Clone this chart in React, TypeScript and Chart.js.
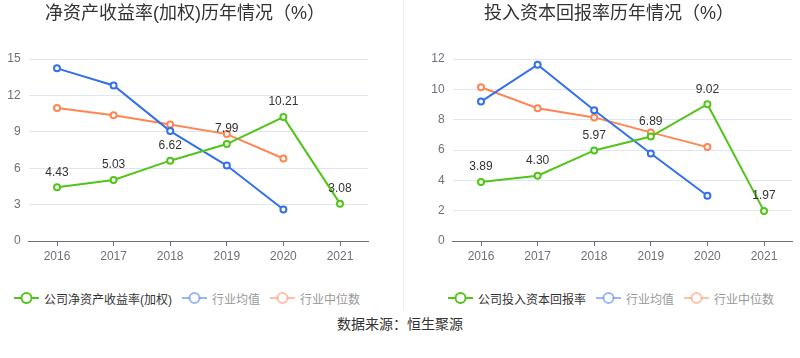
import React, { useEffect, useRef } from "react";
import { Chart, registerables } from "chart.js";

Chart.register(...registerables);

const years = ["2016", "2017", "2018", "2019", "2020", "2021"];

const roeCompany = [4.43, 5.03, 6.62, 7.99, 10.21, 3.08];
const roeMean = [14.23, 12.82, 9.06, 6.22, 2.6, null];
const roeMedian = [10.97, 10.36, 9.61, 8.81, 6.8, null];
const roeTicks = { min: 0, max: 15, step: 3 };

const roicCompany = [3.89, 4.3, 5.97, 6.89, 9.02, 1.97];
const roicMean = [9.19, 11.62, 8.62, 5.77, 2.98, null];
const roicMedian = [10.14, 8.75, 8.15, 7.16, 6.19, null];
const roicTicks = { min: 0, max: 12, step: 2 };

const GREEN = "#52c41a";
const BLUE = "#3370eb";
const ORANGE = "#ff8552";
const FONT = "'Liberation Sans', Arial, 'Noto Sans CJK SC', sans-serif";

const labelPlugin = {
  id: "valueLabels",
  afterDatasetsDraw(chart: any) {
    const ctx = chart.ctx;
    const meta = chart.getDatasetMeta(0);
    const data = chart.data.datasets[0].data;
    ctx.save();
    ctx.font = `12px ${FONT}`;
    ctx.fillStyle = "#333";
    ctx.textAlign = "center";
    ctx.textBaseline = "middle";
    meta.data.forEach((pt: any, i: number) => {
      const v = data[i];
      if (v == null) return;
      ctx.fillText(Number(v).toFixed(2), pt.x, pt.y - 15);
    });
    ctx.restore();
  },
};

function ds(label: string, data: any[], color: string) {
  return {
    label,
    data,
    borderColor: color,
    backgroundColor: "#fff",
    pointBackgroundColor: "#fff",
    pointBorderColor: color,
    pointBorderWidth: 2,
    pointRadius: 3,
    borderWidth: 2,
    tension: 0,
    spanGaps: false,
  };
}

function LineChart(props: {
  company: number[];
  mean: any[];
  median: any[];
  ticks: { min: number; max: number; step: number };
  yWidth: number;
  padRight: number;
}) {
  const ref = useRef<HTMLCanvasElement>(null);
  useEffect(() => {
    const chart = new Chart(ref.current!, {
      type: "line",
      data: {
        labels: years,
        datasets: [
          ds("company", props.company, GREEN),
          ds("mean", props.mean, BLUE),
          ds("median", props.median, ORANGE),
        ],
      },
      options: {
        responsive: false,
        animation: false,
        devicePixelRatio: 1,
        layout: { padding: { left: 0, right: props.padRight, top: 59, bottom: 0 } },
        plugins: { legend: { display: false }, tooltip: { enabled: false }, title: { display: false } },
        scales: {
          x: {
            offset: true,
            grid: { display: true, drawOnChartArea: false, drawTicks: true, tickLength: 5, offset: false, color: "#6e7079" },
            border: { display: true, color: "#6e7079", width: 1 },
            ticks: { color: "#6e7079", font: { size: 12, family: FONT }, padding: 3, maxRotation: 0 },
            afterFit(scale: any) {
              scale.height = 30;
            },
          },
          y: {
            min: props.ticks.min,
            max: props.ticks.max,
            ticks: { stepSize: props.ticks.step, color: "#6e7079", font: { size: 12, family: FONT }, padding: 8 },
            grid: { color: "#e0e6f1", drawTicks: false },
            border: { display: false },
            afterFit(scale: any) {
              scale.width = props.yWidth;
            },
          },
        },
      },
      plugins: [labelPlugin],
    } as any);
    return () => chart.destroy();
  }, []);
  return <canvas ref={ref} width={400} height={271} style={{ width: 400, height: 271, display: "block" }} />;
}

function Icon({ color }: { color: string }) {
  return (
    <svg width={25} height={14} style={{ display: "block" }}>
      <line x1={0} y1={7} x2={25} y2={7} stroke={color} strokeWidth={2} />
      <circle cx={12.5} cy={7} r={5} fill="#fff" stroke={color} strokeWidth={2} />
    </svg>
  );
}

function Legend({ left, first }: { left: number; first: string }) {
  const items = [
    { text: first, color: GREEN, tc: "#333" },
    { text: "行业均值", color: "rgba(51,112,235,0.5)", tc: "#999" },
    { text: "行业中位数", color: "rgba(255,133,82,0.5)", tc: "#999" },
  ];
  return (
    <div
      style={{
        position: "absolute",
        left,
        top: 290,
        height: 16,
        display: "flex",
        alignItems: "center",
        fontSize: 12,
        fontFamily: FONT,
        whiteSpace: "nowrap",
      }}
    >
      {items.map((it, i) => (
        <div key={i} style={{ display: "flex", alignItems: "center", marginRight: 10 }}>
          <Icon color={it.color} />
          <span style={{ marginLeft: 5, color: it.tc }}>{it.text}</span>
        </div>
      ))}
    </div>
  );
}

export default function App() {
  return (
    <div style={{ position: "absolute", left: 0, top: 0, width: 800, height: 358, background: "#fff", overflow: "hidden", fontFamily: FONT }}>
      <div style={{ position: "absolute", left: 0, top: 0 }}>
        <LineChart company={roeCompany} mean={roeMean} median={roeMedian} ticks={roeTicks} yWidth={28.7} padRight={31.7} />
      </div>
      <div style={{ position: "absolute", left: 400, top: 0 }}>
        <LineChart company={roicCompany} mean={roicMean} median={roicMedian} ticks={roicTicks} yWidth={52.7} padRight={7.7} />
      </div>
      <div style={{ position: "absolute", left: 403, top: 0, width: 1, height: 310, background: "#eeeeee" }} />
      <div style={{ position: "absolute", left: 0, width: 370, top: 2, textAlign: "center", fontSize: 18, lineHeight: "22px", color: "#333" }}>
        净资产收益率(加权)历年情况（%）
      </div>
      <div style={{ position: "absolute", left: 420, width: 378, top: 2, textAlign: "center", fontSize: 18, lineHeight: "22px", color: "#333" }}>
        投入资本回报率历年情况（%）
      </div>
      <Legend left={14} first="公司净资产收益率(加权)" />
      <Legend left={448} first="公司投入资本回报率" />
      <div style={{ position: "absolute", left: 0, width: 800, top: 315, textAlign: "center", fontSize: 14, lineHeight: "18px", color: "#333" }}>
        数据来源：恒生聚源
      </div>
    </div>
  );
}
